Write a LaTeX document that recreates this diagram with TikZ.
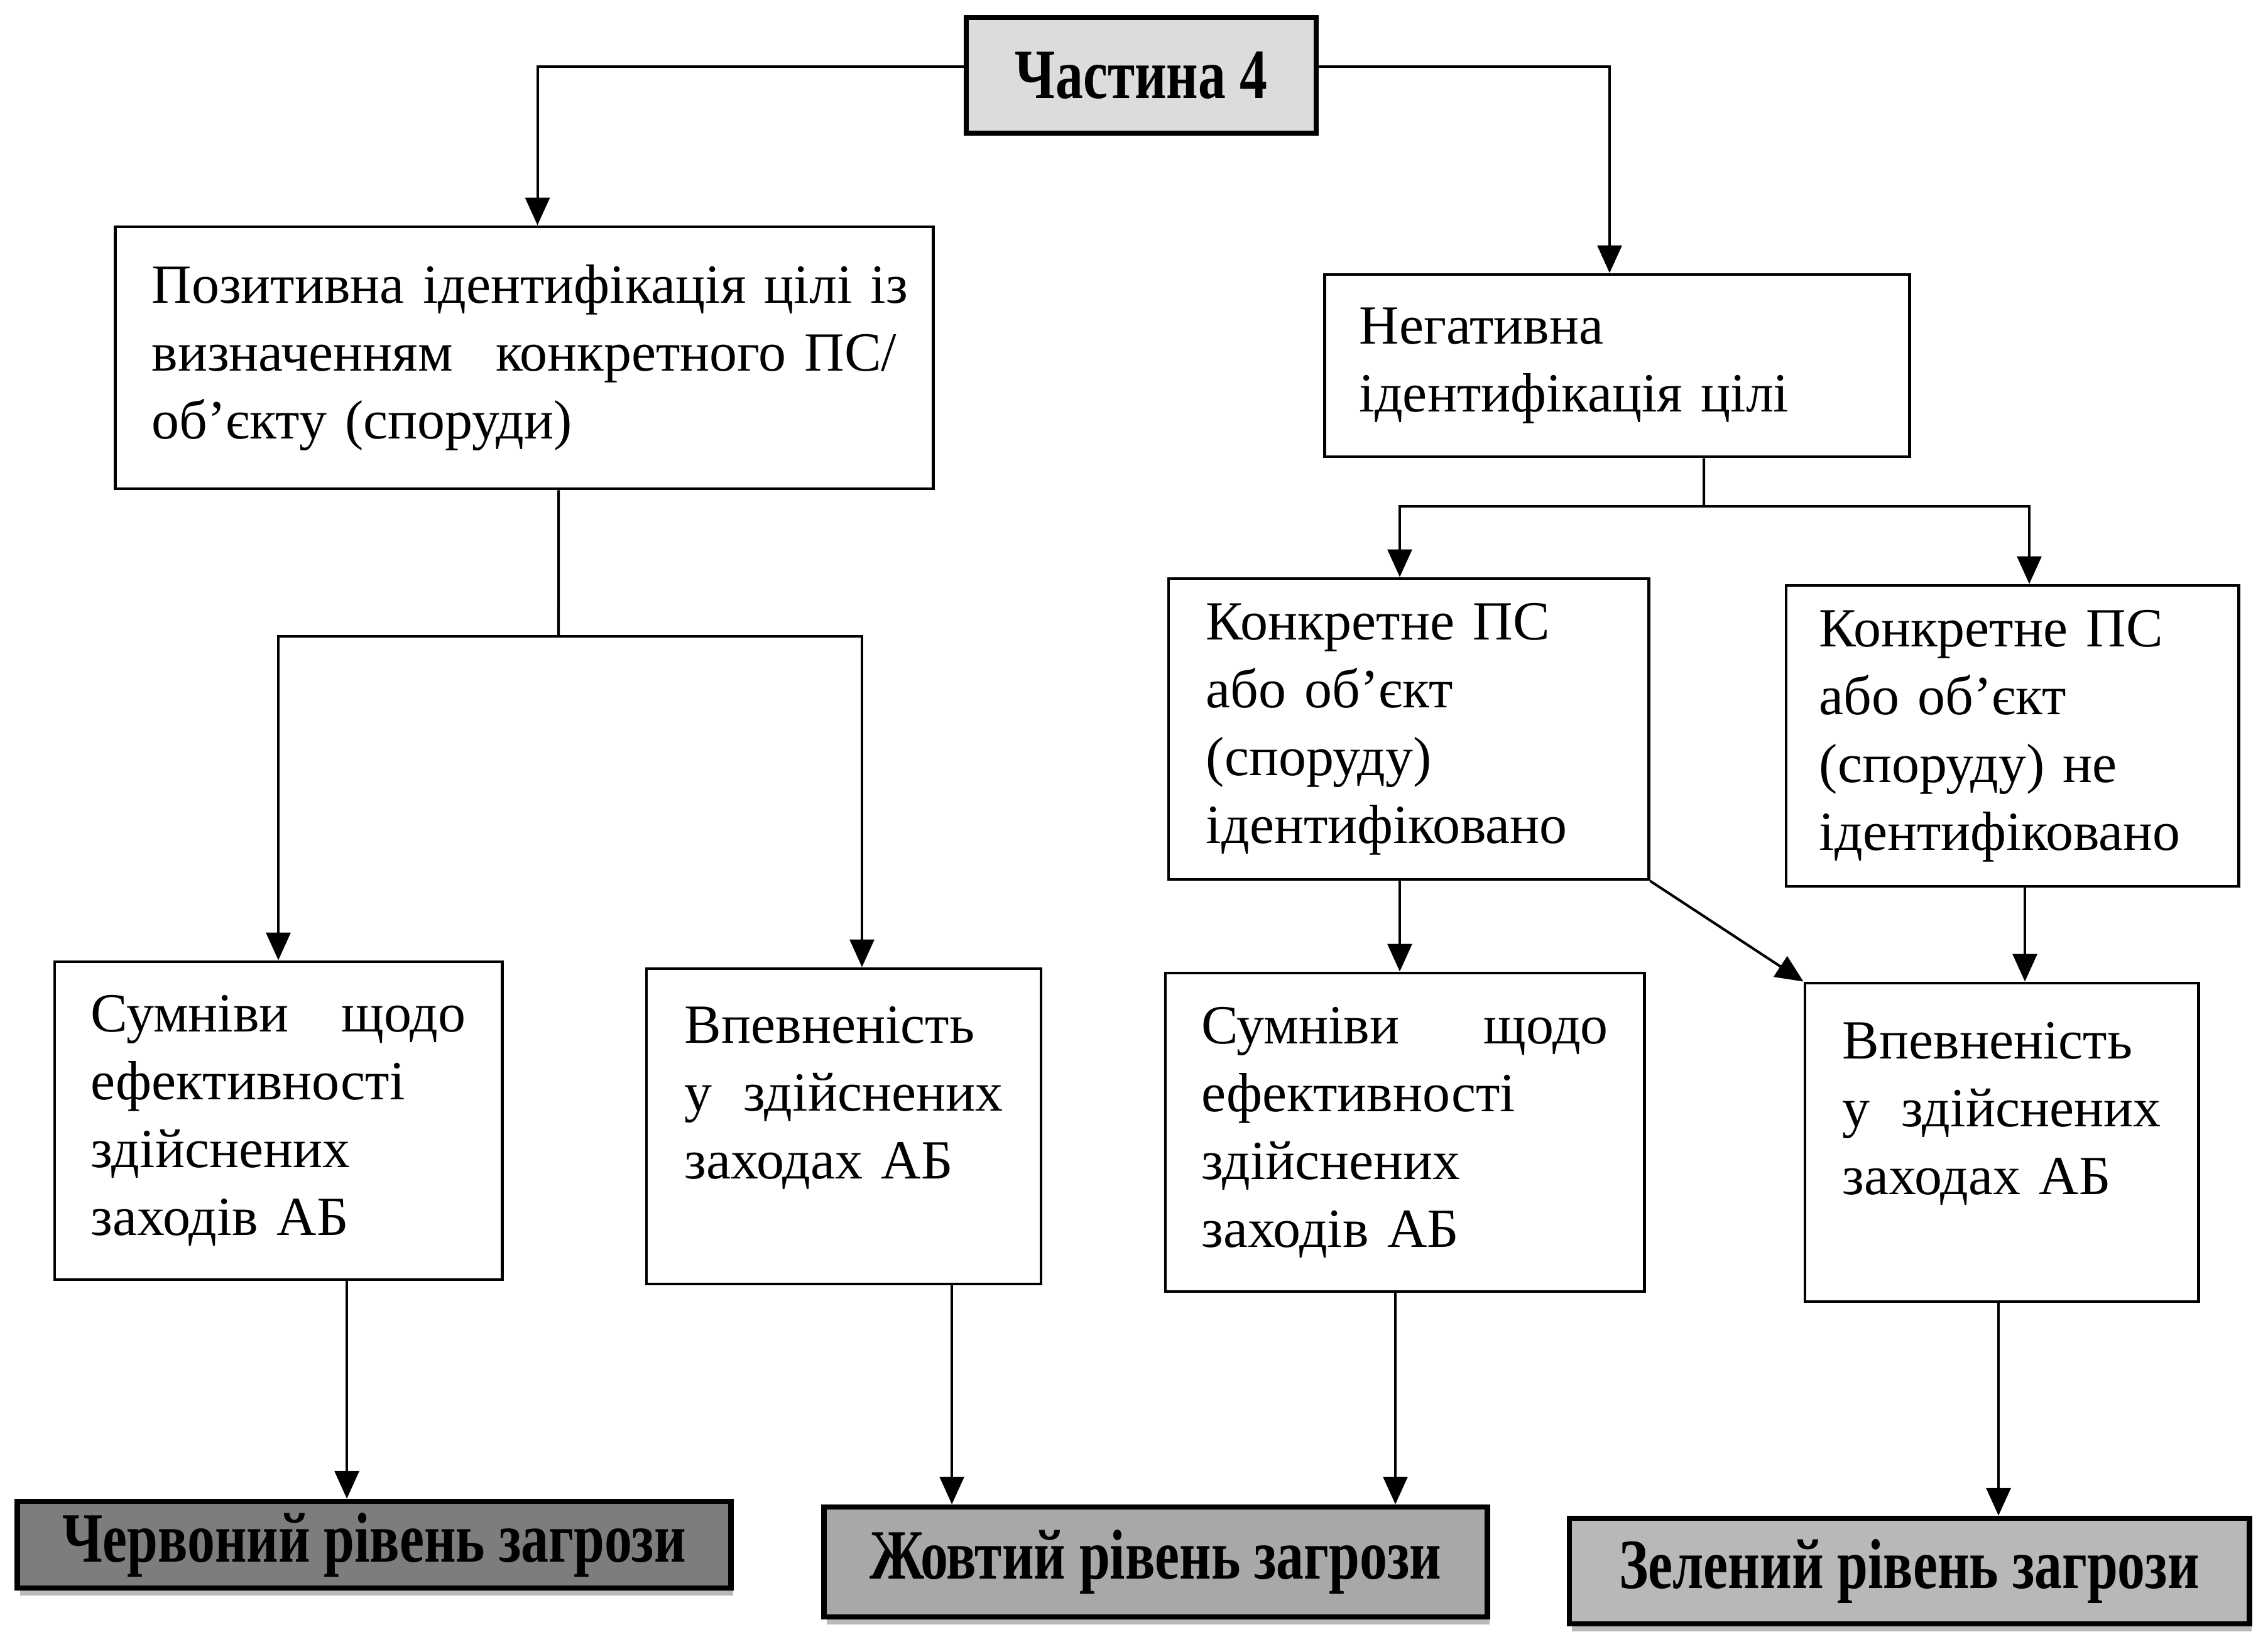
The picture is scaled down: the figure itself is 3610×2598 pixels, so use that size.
\documentclass[tikz,border=0pt]{standalone}
\usepackage{fontspec}
\setmainfont{Liberation Serif}
\usepackage{graphicx}
\usetikzlibrary{arrows.meta,shadows}
\definecolor{topfill}{HTML}{DCDCDC}
\definecolor{redfill}{HTML}{7D7D7D}
\definecolor{yelfill}{HTML}{A8A8A8}
\definecolor{grnfill}{HTML}{B8B8B8}
\begin{document}
\begin{tikzpicture}[x=0.01cm,y=-0.01cm,
  txt/.style={draw,line width=1.3pt,inner sep=0pt,align=left,
    font=\fontsize{25}{30.7}\selectfont},
  head/.style={draw,line width=2.4pt,inner sep=0pt,align=center,
    font=\fontsize{32}{38}\selectfont\bfseries},
  lvl/.style={head,drop shadow={shadow xshift=0.04cm,shadow yshift=-0.12cm,fill=gray!55,opacity=1}},
  arr/.style={line width=1.15pt,-{Triangle[length=12.5pt,width=11pt]}},
  ln/.style={line width=1.15pt}]
\useasboundingbox (0,0) rectangle (3610,2598);

\node[head,fill=topfill,minimum width=5.57cm,minimum height=1.84cm] (T) at (1816.5,120) {\scalebox{0.78}[1]{Частина 4}};

\node[txt,minimum width=13.01cm,minimum height=4.17cm,text width=11.85cm] (P) at (834.5,569.5)
 {\mbox{Позитивна ідентифікація цілі із}\\ визначенням\hfill конкретного ПС/\\ об’єкту (споруди)};
\node[txt,minimum width=9.30cm,minimum height=2.90cm,text width=8.20cm] (N) at (2574,582)
 {Негативна\\ ідентифікація цілі};

\node[txt,minimum width=7.12cm,minimum height=5.06cm,text width=5.96cm] (S1) at (443,1784)
 {Сумніви\hfill щодо\\ ефективності\\ здійснених\\ заходів АБ};
\node[txt,minimum width=6.28cm,minimum height=5.02cm,text width=5.06cm] (V1) at (1343,1793)
 {Впевненість\\ у\hfill здійснених\\ заходах АБ\\ \vphantom{А}};

\node[txt,minimum width=7.64cm,minimum height=4.79cm,text width=6.44cm] (K1) at (2242,1160.5)
 {Конкретне ПС\\ або об’єкт\\ (споруду)\\ ідентифіковано};
\node[txt,minimum width=7.20cm,minimum height=4.79cm,text width=6.14cm] (K2) at (3203,1171.5)
 {Конкретне ПС\\ або об’єкт\\ (споруду) не\\ ідентифіковано};

\node[txt,minimum width=7.62cm,minimum height=5.07cm,text width=6.47cm] (S2) at (2236,1802.5)
 {Сумніви\hfill щодо\\ ефективності\\ здійснених\\ заходів АБ};
\node[txt,minimum width=6.26cm,minimum height=5.07cm,text width=5.06cm] (V2) at (3186,1818.5)
 {Впевненість\\ у\hfill здійснених\\ заходах АБ\\ \vphantom{А}};

\node[lvl,fill=redfill,minimum width=11.35cm,minimum height=1.38cm] (R) at (595.5,2459)
 {\scalebox{0.78}[1]{Червоний рівень загрози}};
\node[lvl,fill=yelfill,minimum width=10.55cm,minimum height=1.75cm] (Y) at (1839.5,2486.5)
 {\scalebox{0.78}[1]{Жовтий рівень загрози}};
\node[lvl,fill=grnfill,minimum width=10.82cm,minimum height=1.68cm] (G) at (3039,2501)
 {\scalebox{0.78}[1]{Зелений рівень загрози}};

% top connectors
\draw[arr] ([yshift=0.14cm]T.west) -| ([xshift=0.21cm]P.north);
\draw[arr] ([yshift=0.14cm]T.east) -| ([xshift=-0.12cm]N.north);

% left branch
\coordinate (pj) at (889,1013);
\draw[ln] ([xshift=0.545cm]P.south) -- (pj);
\draw[arr] (pj) -| (S1.north);
\draw[arr] (pj) -| ([xshift=0.29cm]V1.north);

% right branch
\coordinate (nj) at (2712,806);
\draw[ln] ([xshift=1.38cm]N.south) -- (nj);
\draw[arr] (nj) -| ([xshift=-0.14cm]K1.north);
\draw[arr] (nj) -| ([xshift=0.27cm]K2.north);

\draw[arr] ([xshift=-0.14cm]K1.south) -- ([xshift=-0.14cm]K1.south |- S2.north);
\draw[arr] ([xshift=0.20cm]K2.south) -- ([xshift=0.20cm]K2.south |- V2.north);
\draw[arr] (K1.south east) -- (V2.north west);

% to levels
\draw[arr] ([xshift=1.09cm]S1.south) -- ([xshift=1.09cm]S1.south |- R.north);
\draw[arr] ([xshift=1.72cm]V1.south) -- ([xshift=1.72cm]V1.south |- Y.north);
\draw[arr] ([xshift=-0.15cm]S2.south) -- ([xshift=-0.15cm]S2.south |- Y.north);
\draw[arr] ([xshift=-0.05cm]V2.south) -- ([xshift=-0.05cm]V2.south |- G.north);
\end{tikzpicture}
\end{document}
